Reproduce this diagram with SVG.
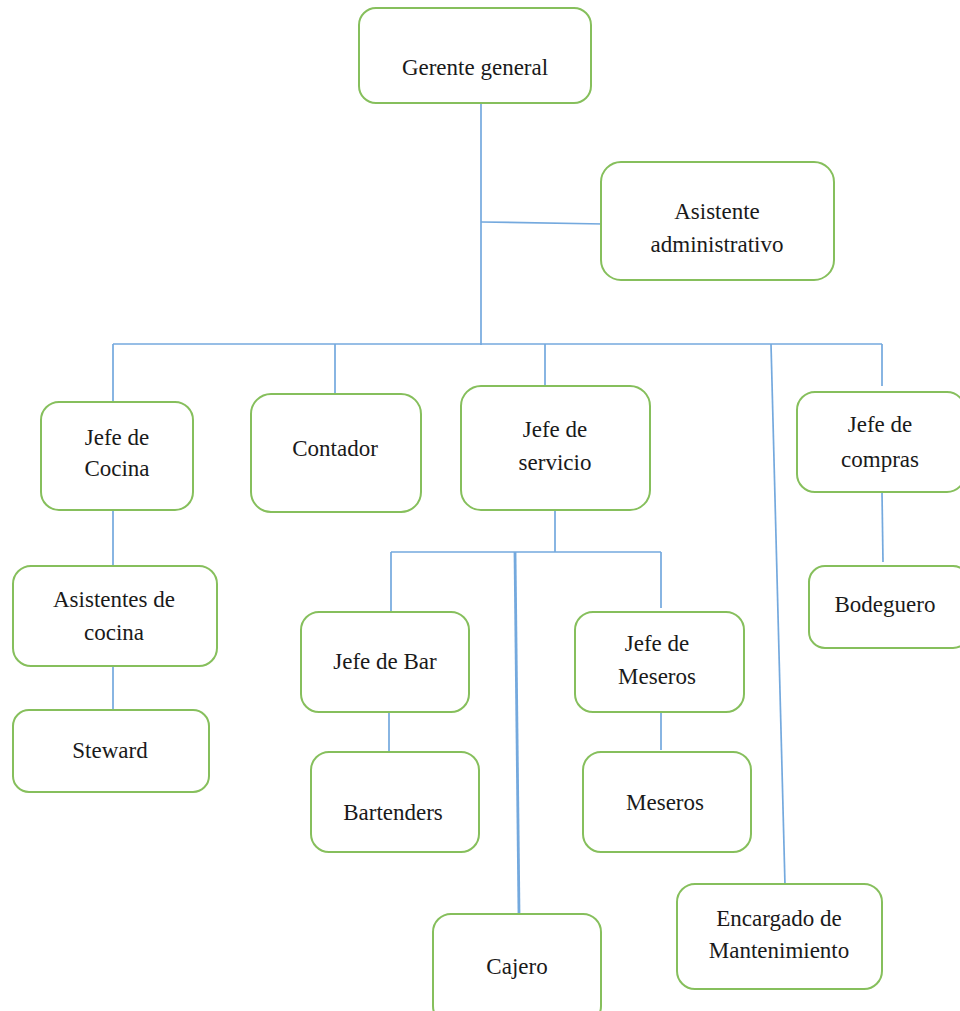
<svg xmlns="http://www.w3.org/2000/svg" width="960" height="1011" viewBox="0 0 960 1011">
<style>
.box{fill:#fff;stroke:#86bf5c;stroke-width:2}
.t{font-family:'Liberation Serif',Tinos,'Times New Roman','DejaVu Serif',serif;font-size:23px;fill:#1a1a1a;text-anchor:middle}
.c{fill:none;stroke:#74a9de;stroke-width:1.7}
.thick{stroke-width:2.8}
</style>
<rect width="960" height="1011" fill="#fff"/>
<g id="connectors">
<path class="c" d="M481 103V345"/>
<path class="c" d="M481 222L604 224"/>
<path class="c" d="M113 344H882"/>
<path class="c" d="M113 344V402M335 344V393M545 344V386M882 344V386"/>
<path class="c" d="M771 344L785 885"/>
<path class="c" d="M113 510V566M113 666V710"/>
<path class="c" d="M555 510V552M391 552H661M391 552V612M661 552V608"/>
<path class="c thick" d="M515 552L519 914"/>
<path class="c" d="M389 712V752M661 712V750"/>
<path class="c" d="M882 492L883 562"/>
</g>
<g id="gerente"><rect class="box" x="359" y="8" width="232" height="95" rx="17"/><text class="t" x="475" y="75">Gerente general</text></g>
<g id="asistente"><rect class="box" x="601" y="162" width="233" height="118" rx="20"/><text class="t" x="717" y="219">Asistente</text><text class="t" x="717" y="252">administrativo</text></g>
<g id="jefe-cocina"><rect class="box" x="41" y="402" width="152" height="108" rx="18"/><text class="t" x="117" y="445">Jefe de</text><text class="t" x="117" y="476">Cocina</text></g>
<g id="contador"><rect class="box" x="251" y="394" width="170" height="118" rx="20"/><text class="t" x="335" y="456">Contador</text></g>
<g id="jefe-servicio"><rect class="box" x="461" y="386" width="189" height="124" rx="20"/><text class="t" x="555" y="437">Jefe de</text><text class="t" x="555" y="470">servicio</text></g>
<g id="jefe-compras"><rect class="box" x="797" y="392" width="168" height="100" rx="18"/><text class="t" x="880" y="432">Jefe de</text><text class="t" x="880" y="467">compras</text></g>
<g id="asistentes-cocina"><rect class="box" x="13" y="566" width="204" height="100" rx="18"/><text class="t" x="114" y="607">Asistentes de</text><text class="t" x="114" y="640">cocina</text></g>
<g id="steward"><rect class="box" x="13" y="710" width="196" height="82" rx="16"/><text class="t" x="110" y="758">Steward</text></g>
<g id="jefe-bar"><rect class="box" x="301" y="612" width="168" height="100" rx="18"/><text class="t" x="385" y="669">Jefe de Bar</text></g>
<g id="bartenders"><rect class="box" x="311" y="752" width="168" height="100" rx="18"/><text class="t" x="393" y="820">Bartenders</text></g>
<g id="jefe-meseros"><rect class="box" x="575" y="612" width="169" height="100" rx="18"/><text class="t" x="657" y="651">Jefe de</text><text class="t" x="657" y="684">Meseros</text></g>
<g id="meseros"><rect class="box" x="583" y="752" width="168" height="100" rx="18"/><text class="t" x="665" y="810">Meseros</text></g>
<g id="cajero"><rect class="box" x="433" y="914" width="168" height="110" rx="18"/><text class="t" x="517" y="974">Cajero</text></g>
<g id="encargado"><rect class="box" x="677" y="884" width="205" height="105" rx="18"/><text class="t" x="779" y="926">Encargado de</text><text class="t" x="779" y="958">Mantenimiento</text></g>
<g id="bodeguero"><rect class="box" x="809" y="566" width="160" height="82" rx="16"/><text class="t" x="885" y="612">Bodeguero</text></g>
</svg>
